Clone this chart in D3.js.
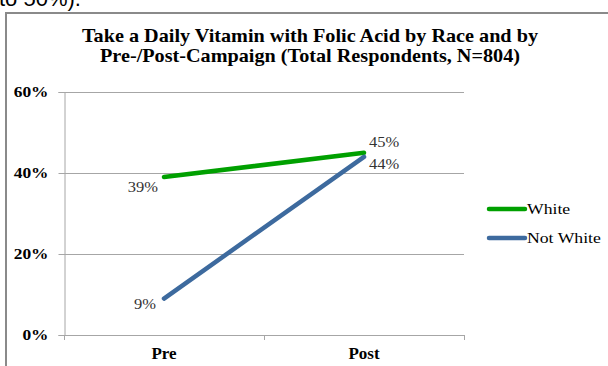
<!DOCTYPE html>
<html>
<head>
<meta charset="utf-8">
<script src="https://cdn.jsdelivr.net/npm/d3@7"></script>
<style>
  html, body { margin: 0; padding: 0; background: #fff; }
  svg { display: block; }
</style>
</head>
<body>
<div id="chart"></div>
<script>
const categories = ["Pre", "Post"];
const seriesNames = ["White", "Not White"];
const whiteValues = [39, 45];
const notWhiteValues = [9, 44];
const yTicks = [0, 20, 40, 60];
const titleLines = [
    "Take a Daily Vitamin with Folic Acid by Race and by",
    "Pre-/Post-Campaign (Total Respondents, N=804)"
];
const colors = ["#00a000", "#3d6a9e"];

const width = 608, height = 366;
const plot = {left: 64, right: 464, top: 92, bottom: 335};
const serif = "Liberation Serif, Times New Roman, serif";

// the source chart is a bit wider than tall, so stretch text sideways
function stretch(sel, factor) {
    sel.each(function () {
        const w = this.getComputedTextLength();
        d3.select(this)
            .attr("textLength", w * factor)
            .attr("lengthAdjust", "spacingAndGlyphs");
    });
}

const svg = d3.select("#chart").append("svg")
    .attr("width", width)
    .attr("height", height);

// cut-off text from the page above
svg.append("text")
    .attr("x", -1)
    .attr("y", 6)
    .attr("font-family", "Liberation Sans, Arial, sans-serif")
    .attr("font-size", 22)
    .attr("fill", "#000")
    .text("to 50%).");

// chart frame
svg.append("path")
    .attr("d", `M6,${height + 2}V13H${width + 2}`)
    .attr("fill", "none")
    .attr("stroke", "#8a8a8a")
    .attr("stroke-width", 2);

// title
const title = svg.append("g").selectAll("text")
    .data(titleLines)
    .join("text")
    .attr("x", 310)
    .attr("y", (d, i) => 42 + i * 20)
    .attr("text-anchor", "middle")
    .attr("font-family", serif)
    .attr("font-weight", "bold")
    .attr("font-size", 19)
    .attr("fill", "#000")
    .text(d => d);
const titleFactor = 456 / title.node().getComputedTextLength();
stretch(title, titleFactor);

const x = d3.scalePoint()
    .domain(categories)
    .range([plot.left, plot.right])
    .padding(0.5);

const y = d3.scaleLinear()
    .domain([0, 60])
    .range([plot.bottom, plot.top]);

// gridlines
svg.append("g").selectAll("line")
    .data(yTicks.filter(d => d > 0))
    .join("line")
    .attr("x1", plot.left)
    .attr("x2", plot.right)
    .attr("y1", d => Math.round(y(d)) + 0.5)
    .attr("y2", d => Math.round(y(d)) + 0.5)
    .attr("stroke", "#a6a6a6")
    .attr("stroke-width", 1);

// y axis
const yAxis = d3.axisLeft(y)
    .tickValues(yTicks)
    .tickSize(6)
    .tickPadding(10)
    .tickFormat(d => d + "%");

const gy = svg.append("g")
    .attr("transform", `translate(${plot.left + 0.5},0)`)
    .call(yAxis);
gy.select(".domain").attr("stroke", "#a6a6a6");
gy.selectAll(".tick line").attr("stroke", "#a6a6a6");
gy.selectAll(".tick text")
    .attr("font-family", serif)
    .attr("font-weight", "bold")
    .attr("font-size", 14.5)
    .attr("fill", "#000")
    .call(stretch, 1.2);

// x axis: ticks between categories
const xEdges = [plot.left, (plot.left + plot.right) / 2, plot.right];
svg.append("line")
    .attr("x1", plot.left)
    .attr("x2", plot.right)
    .attr("y1", plot.bottom + 0.5)
    .attr("y2", plot.bottom + 0.5)
    .attr("stroke", "#a6a6a6");
svg.append("g").selectAll("line")
    .data(xEdges)
    .join("line")
    .attr("x1", d => d + 0.5)
    .attr("x2", d => d + 0.5)
    .attr("y1", plot.bottom)
    .attr("y2", plot.bottom + 5)
    .attr("stroke", "#a6a6a6");
svg.append("g").selectAll("text")
    .data(categories)
    .join("text")
    .attr("x", d => x(d))
    .attr("y", 359)
    .attr("text-anchor", "middle")
    .attr("font-family", serif)
    .attr("font-weight", "bold")
    .attr("font-size", 17)
    .attr("fill", "#000")
    .text(d => d);

// lines
const series = [
    {name: seriesNames[0], values: whiteValues, color: colors[0]},
    {name: seriesNames[1], values: notWhiteValues, color: colors[1]}
];

const line = d3.line()
    .x((d, i) => x(categories[i]))
    .y(d => y(d));

svg.append("g").selectAll("path")
    .data(series)
    .join("path")
    .attr("d", d => line(d.values))
    .attr("fill", "none")
    .attr("stroke", d => d.color)
    .attr("stroke-width", 4.5)
    .attr("stroke-linecap", "round");

// data labels (offsets from each point, as placed in the source)
const labelOffsets = [
    [[-6, 15], [5, -6]],
    [[-8, 10], [5, 12]]
];
const labels = [];
series.forEach((s, si) => {
    s.values.forEach((v, i) => {
        const [dx, dy] = labelOffsets[si][i];
        labels.push({
            text: v + "%",
            x: x(categories[i]) + dx,
            y: y(v) + dy,
            anchor: i === 0 ? "end" : "start"
        });
    });
});
svg.append("g").selectAll("text")
    .data(labels)
    .join("text")
    .attr("x", d => d.x)
    .attr("y", d => d.y)
    .attr("text-anchor", d => d.anchor)
    .attr("font-family", serif)
    .attr("font-size", 15)
    .attr("fill", "#333")
    .text(d => d.text)
    .call(stretch, 1.1);

// legend
const legend = svg.append("g")
    .selectAll("g")
    .data(series)
    .join("g")
    .attr("transform", (d, i) => `translate(489,${209 + i * 29})`);
legend.append("line")
    .attr("x1", 0)
    .attr("x2", 36)
    .attr("stroke", d => d.color)
    .attr("stroke-width", 4.5)
    .attr("stroke-linecap", "round");
legend.append("text")
    .attr("x", 38)
    .attr("y", 5)
    .attr("font-family", serif)
    .attr("font-size", 14.5)
    .attr("fill", "#000")
    .text(d => d.name)
    .call(stretch, 1.22);
</script>
</body>
</html>
